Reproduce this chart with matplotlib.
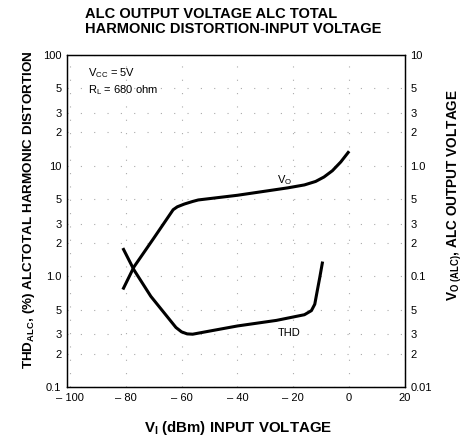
import matplotlib
matplotlib.use("Agg")
from matplotlib import pyplot as plt
from matplotlib.ticker import FixedLocator, FixedFormatter, NullLocator

plt.rcParams['font.family'] = ['Liberation Sans', 'DejaVu Sans']
plt.rcParams['mathtext.fontset'] = 'custom'
plt.rcParams['mathtext.rm'] = 'Liberation Sans'
plt.rcParams['mathtext.bf'] = 'Liberation Sans:bold'
plt.rcParams['mathtext.it'] = 'Liberation Sans:italic'

# data
vi_ticks = [-100, -80, -60, -40, -20, 0, 20]
vi_labels = ['– 100', '– 80', '– 60', '– 40', '– 20', '0', '20']

thd_x = [-81, -77, -71, -62, -60, -58, -56, -50, -40, -26, -16, -13.5, -12.3, -11.5, -10.5, -9.5]
thd_y = [1.8, 1.14, 0.66, 0.345, 0.315, 0.302, 0.30, 0.32, 0.356, 0.40, 0.45, 0.49, 0.56, 0.72, 0.98, 1.36]

vo_x = [-81, -77, -70, -63, -61.5, -59, -56, -54, -40, -22, -16, -12, -9, -6, -3, 0]
vo_y = [0.076, 0.122, 0.22, 0.40, 0.425, 0.45, 0.475, 0.49, 0.54, 0.63, 0.67, 0.72, 0.79, 0.9, 1.08, 1.35]

left_ticks = [0.1, 0.2, 0.3, 0.5, 1, 2, 3, 5, 10, 20, 30, 50, 100]
left_labels = ['0.1', '2', '3', '5', '1.0', '2', '3', '5', '10', '2', '3', '5', '100']
right_ticks = [0.01, 0.02, 0.03, 0.05, 0.1, 0.2, 0.3, 0.5, 1, 2, 3, 5, 10]
right_labels = ['0.01', '2', '3', '5', '0.1', '2', '3', '5', '1.0', '2', '3', '5', '10']

fig = plt.figure(figsize=(4.65, 4.47), dpi=100)
ax = fig.add_axes([67/465, 60/447, 338/465, 332/447])
ax2 = ax.twinx()

ax.set_xlim(-101, 20)
ax.set_yscale('log')
ax.set_ylim(0.1, 100)
ax2.set_yscale('log')
ax2.set_ylim(0.01, 10)

ax.xaxis.set_major_locator(FixedLocator(vi_ticks))
ax.xaxis.set_major_formatter(FixedFormatter(vi_labels))
ax.yaxis.set_major_locator(FixedLocator(left_ticks))
ax.yaxis.set_major_formatter(FixedFormatter(left_labels))
ax.yaxis.set_minor_locator(NullLocator())
ax2.yaxis.set_major_locator(FixedLocator(right_ticks))
ax2.yaxis.set_major_formatter(FixedFormatter(right_labels))
ax2.yaxis.set_minor_locator(NullLocator())

ax.tick_params(labelsize=8, length=0, pad=4)
ax2.tick_params(labelsize=8, length=0, pad=4)

# dotted grid
ax.grid(True, color='#aaaaaa', linestyle=(0, (1, 11)), linewidth=0.8)

ax.plot(thd_x, thd_y, color='black', lw=2.2, solid_capstyle='butt', solid_joinstyle='round')
ax2.plot(vo_x, vo_y, color='black', lw=2.2, solid_capstyle='butt', solid_joinstyle='round')

for a in (ax, ax2):
    for s in a.spines.values():
        s.set_linewidth(0.9)

ax.text(0.62, 0.615, 'V$_\\mathrm{O}$', transform=ax.transAxes, fontsize=8)
ax.text(0.625, 0.155, 'THD', transform=ax.transAxes, fontsize=8)
ax.text(0.062, 0.935, 'V$_\\mathrm{CC}$ = 5V', transform=ax.transAxes, fontsize=8)
ax.text(0.062, 0.885, 'R$_\\mathrm{L}$ = 680 ohm', transform=ax.transAxes, fontsize=8)

fig.text(85/465, 1 - 7/447, 'ALC OUTPUT VOLTAGE ALC TOTAL\nHARMONIC DISTORTION-INPUT VOLTAGE',
         ha='left', va='top', fontsize=10.5, fontweight='bold', linespacing=1.1)

fig.text(238/465, 1 - 428/447, 'V$_\\mathbf{I}$ (dBm) INPUT VOLTAGE', fontsize=10.8,
         fontweight='bold', ha='center', va='center')
fig.text(29/465, 1 - 210/447, 'THD$_\\mathbf{ALC}$, (%) ALCTOTAL HARMONIC DISTORTION',
         fontsize=9.7, fontweight='bold', rotation=90, ha='center', va='center')
fig.text(455/465, 1 - 195/447, 'V$_\\mathbf{O\\ (ALC)}$, ALC OUTPUT VOLTAGE',
         fontsize=9.8, fontweight='bold', rotation=90, ha='center', va='center')

fig.savefig('out.png', dpi=100)
